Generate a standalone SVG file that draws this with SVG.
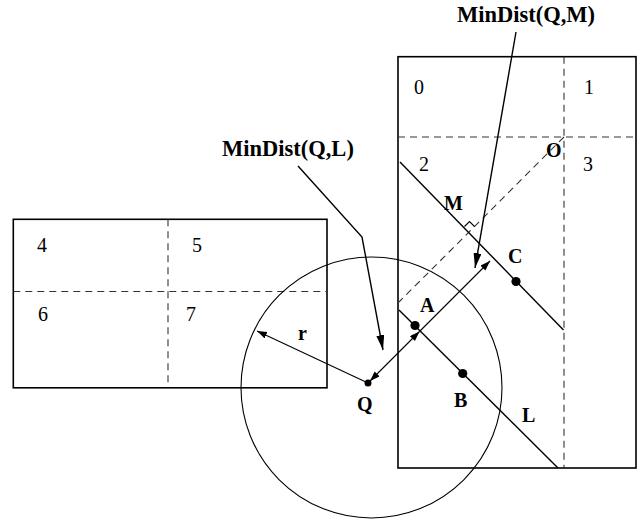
<svg xmlns="http://www.w3.org/2000/svg" width="639" height="519" viewBox="0 0 639 519">
<style>
.box{fill:none;stroke:#000;stroke-width:1.6}
.dash{fill:none;stroke:#333;stroke-width:1.1;stroke-dasharray:7,5}
.ln{fill:none;stroke:#000;stroke-width:1.4}
.thin{fill:none;stroke:#000;stroke-width:1.1}
.dot{fill:#000}
.num{font-family:"Liberation Serif","Times New Roman",serif;font-size:20px;fill:#000}
.lbl{font-family:"Liberation Serif","Times New Roman",serif;font-size:20px;font-weight:bold;fill:#000}
.big{font-family:"Liberation Serif","Times New Roman",serif;font-size:22.5px;font-weight:bold;fill:#000}
</style>
<defs>
<marker id="ah" markerUnits="userSpaceOnUse" markerWidth="17" markerHeight="10" refX="15" refY="4" orient="auto"><path d="M0,0 L15,4 L0,8 z" fill="#000"/></marker>
<marker id="as" markerUnits="userSpaceOnUse" markerWidth="12" markerHeight="8" refX="10" refY="3.5" orient="auto-start-reverse"><path d="M0,0 L10,3.5 L0,7 z" fill="#000"/></marker>
</defs>
<g id="rectLeft">
<rect class="box" x="13.3" y="219.3" width="313.7" height="168.5"/>
<line class="dash" x1="168" y1="219.3" x2="168" y2="387.8"/>
<line class="dash" x1="13.3" y1="291.5" x2="327" y2="291.5"/>
<text class="num" x="37" y="252">4</text>
<text class="num" x="192" y="252">5</text>
<text class="num" x="38" y="321">6</text>
<text class="num" x="186" y="321">7</text>
</g>
<g id="rectRight">
<rect class="box" x="398" y="56.7" width="238" height="411.3"/>
<line class="dash" x1="564" y1="56.7" x2="564" y2="468"/>
<line class="dash" x1="398" y1="137" x2="636" y2="137"/>
<text class="num" x="414" y="94">0</text>
<text class="num" x="584" y="94">1</text>
<text class="num" x="419" y="171">2</text>
<text class="num" x="583" y="171">3</text>
</g>
<g id="circle">
<circle class="thin" cx="371.5" cy="387.5" r="130.5"/>
</g>
<g id="connectors">
<line class="dash" x1="564" y1="137" x2="399" y2="302"/>
<line class="ln" x1="400" y1="162" x2="563.5" y2="330"/>
<line class="ln" x1="399" y1="310" x2="558" y2="468"/>
<path class="thin" d="M474.5,226.5 L469.5,221.5 L464.5,226.5"/>
<line class="thin" x1="370" y1="381" x2="419.5" y2="331.5" marker-start="url(#as)" marker-end="url(#as)"/>
<line class="thin" x1="419.5" y1="331.5" x2="490" y2="261" marker-end="url(#as)"/>
<line class="thin" x1="368" y1="383" x2="257" y2="331" marker-end="url(#as)"/>
<path class="ln" d="M298,166 L362,237 L383,350" marker-end="url(#ah)"/>
<line class="ln" x1="516" y1="32" x2="475" y2="268" marker-end="url(#ah)"/>
</g>
<g id="points">
<circle class="dot" cx="368" cy="383" r="3.5"/>
<circle class="dot" cx="415" cy="325.5" r="4.6"/>
<circle class="dot" cx="462.7" cy="373.5" r="4.6"/>
<circle class="dot" cx="516" cy="281.5" r="4.6"/>
</g>
<g id="labels">
<text class="big" x="457" y="22">MinDist(Q,M)</text>
<text class="big" x="222" y="156">MinDist(Q,L)</text>
<text class="lbl" x="546" y="157">O</text>
<text class="lbl" x="444" y="210">M</text>
<text class="lbl" x="508" y="263">C</text>
<text class="lbl" x="420" y="312">A</text>
<text class="lbl" x="454" y="407">B</text>
<text class="lbl" x="357" y="411">Q</text>
<text class="lbl" x="522" y="422">L</text>
<text class="lbl" x="298" y="340">r</text>
</g>
</svg>
